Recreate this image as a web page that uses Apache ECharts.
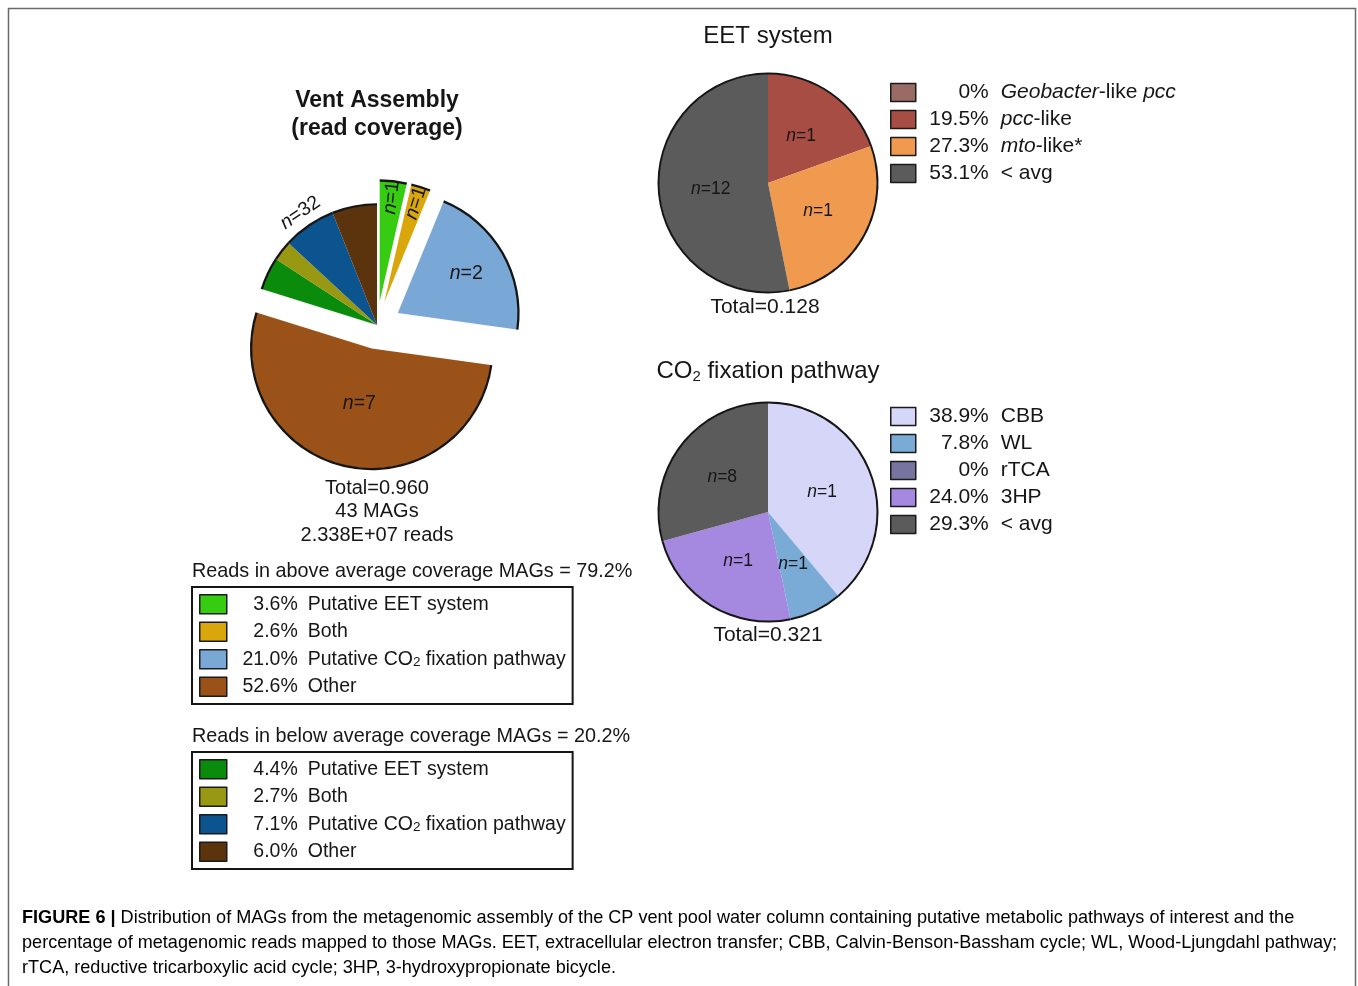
<!DOCTYPE html>
<html>
<head>
<meta charset="utf-8">
<title>Figure 6</title>
<script src="https://cdn.jsdelivr.net/npm/echarts@6.0.0/dist/echarts.min.js"></script>
<style>
  html, body { margin: 0; padding: 0; background: #fff; }
  #chart { width: 1358px; height: 986px; }
</style>
</head>
<body>
<div id="chart"></div>
<script>
// Vent assembly (read coverage): % of reads per MAG group
const ventCategories = ["Putative EET system", "Both", "Putative CO2 fixation pathway", "Other"];
const ventAbovePct = [3.6, 2.6, 21.0, 52.6];
const ventBelowPct = [4.4, 2.7, 7.1, 6.0];
const ventAboveN = [1, 1, 2, 7];
const ventBelowN = 32;
const ventAboveTotal = "79.2%";
const ventBelowTotal = "20.2%";
const ventSummary = ["Total=0.960", "43 MAGs", "2.338E+07 reads"];

// EET system
const eetCategories = ["Geobacter-like pcc", "pcc-like", "mto-like*", "< avg"];
const eetPct = [0, 19.5, 27.3, 53.1];
const eetN = [0, 1, 1, 12];
const eetTotal = "Total=0.128";

// CO2 fixation pathway
const co2Categories = ["CBB", "WL", "rTCA", "3HP", "< avg"];
const co2Pct = [38.9, 7.8, 0, 24.0, 29.3];
const co2N = [1, 1, 0, 1, 8];
const co2Total = "Total=0.321";

// palettes
const ventAboveColors = ["#35cc12", "#d9a70b", "#7aa8d6", "#9b5219"];
const ventBelowColors = ["#0b8b0b", "#989812", "#0b548f", "#5b330d"];
const eetColors = ["#9a6b64", "#a84d44", "#ef9a4f", "#5b5b5b"];
const co2Colors = ["#d6d6f8", "#7aabd6", "#77759f", "#a588df", "#5b5b5b"];

const FONT = '"Liberation Sans", Arial, Helvetica, sans-serif';
const INK = "#161616";

const measureCtx = document.createElement("canvas").getContext("2d");
const textWidth = (text, size) => {
  measureCtx.font = size + "px " + FONT;
  return measureCtx.measureText(text).width;
};

const markup = (text) =>
  text
    .split(/(Geobacter|pcc|mto|CO2)/)
    .filter(Boolean)
    .map((part) => {
      if (part === "CO2") return "{t|CO}{s|2}";
      if (/^(Geobacter|pcc|mto)$/.test(part)) return "{i|" + part + "}";
      return "{t|" + part + "}";
    })
    .join("");

const pctText = (v) => (v === 0 ? "0%" : v.toFixed(1) + "%");
const nText = (n) => "{i|n}{t|=" + n + "}";

// legend rich styles; percentages right-aligned in a column of width pw
const legendRich = (size, gap) => ({
  p: { fontFamily: FONT, fontSize: size, lineHeight: 20, color: INK },
  g: { fontFamily: FONT, fontSize: size, lineHeight: 20, width: gap },
  t: { fontFamily: FONT, fontSize: size, lineHeight: 20, color: INK },
  i: { fontFamily: FONT, fontSize: size, lineHeight: 20, fontStyle: "italic", color: INK },
  s: { fontFamily: FONT, fontSize: 13.5, lineHeight: 8, verticalAlign: "bottom", color: INK }
});
const legendText = {};
const addLegendEntries = (prefix, pcts, categories, rich, size, pw) =>
  pcts.map((v, i) => {
    const name = prefix + i;
    const pct = pctText(v);
    rich["x" + name] = { fontSize: size, lineHeight: 20, width: pw - textWidth(pct, size) };
    legendText[name] = "{x" + name + "| }{p|" + pct + "}{g| }" + markup(categories[i]);
    return name;
  });

const aboveRich = legendRich(19.5, 10);
const belowRich = legendRich(19.5, 10);
const eetRich = legendRich(21, 12);
const co2Rich = legendRich(21, 12);
const aboveNames = addLegendEntries("vA", ventAbovePct, ventCategories, aboveRich, 19.5, 66);
const belowNames = addLegendEntries("vB", ventBelowPct, ventCategories, belowRich, 19.5, 66);
const eetNames = addLegendEntries("eet", eetPct, eetCategories, eetRich, 21, 68);
const co2Names = addLegendEntries("co2", co2Pct, co2Categories, co2Rich, 21, 68);

// ---- vent pie data ----
const ventData = [];
ventAbovePct.forEach((v, i) => ventData.push({ name: aboveNames[i], value: v, selected: true, color: ventAboveColors[i] }));
ventBelowPct.forEach((v, i) => ventData.push({ name: belowNames[i], value: v, selected: false, color: ventBelowColors[i] }));

const labelRich = (size) => ({
  i: { fontFamily: FONT, fontSize: size, fontStyle: "italic", color: INK },
  t: { fontFamily: FONT, fontSize: size, color: INK }
});

const ventCenter = [377, 325];
const ventBase = {
  type: "pie",
  center: ventCenter,
  startAngle: 90,
  clockwise: true,
  selectedMode: "multiple",
  selectedOffset: 24,
  avoidLabelOverlap: false,
  silent: true,
  labelLine: { show: false },
  labelLayout: { hideOverlap: false },
  emphasis: { disabled: true }
};

// transparent layer that only carries labels at a chosen radius
const ventLabelLayer = (radius, showIdx, rotate) => ({
  ...ventBase,
  radius,
  itemStyle: { color: "rgba(0,0,0,0)" },
  label: {
    show: true,
    position: "inside",
    rotate: rotate || 0,
    formatter: (p) => (p.dataIndex < ventAboveN.length ? nText(ventAboveN[p.dataIndex]) : nText(ventBelowN)),
    rich: labelRich(19.5)
  },
  data: ventData.map((d, i) => ({
    name: d.name,
    value: d.value,
    selected: d.selected,
    label: { show: showIdx.includes(i) }
  }))
});

const smallPie = (names, values, colors, center, nums) => [
  {
    type: "pie",
    center,
    radius: 109,
    startAngle: 90,
    clockwise: true,
    silent: true,
    avoidLabelOverlap: false,
    labelLine: { show: false },
    emphasis: { disabled: true },
    label: {
      show: true,
      position: "inside",
      formatter: (p) => nText(nums[p.dataIndex]),
      rich: labelRich(17.5)
    },
    data: values.map((v, i) => ({
      name: names[i],
      value: v,
      itemStyle: { color: colors[i] },
      label: { show: v > 0 }
    }))
  },
  {
    type: "pie",
    center,
    radius: [108.5, 110.5],
    startAngle: 90,
    clockwise: true,
    silent: true,
    label: { show: false },
    labelLine: { show: false },
    emphasis: { disabled: true },
    itemStyle: { color: "#151515" },
    data: values.map((v, i) => ({ name: names[i], value: v }))
  }
];

const legendBase = {
  orient: "vertical",
  icon: "rect",
  selectedMode: false,
  formatter: (name) => legendText[name],
  itemStyle: { borderColor: "#1a1a1a", borderWidth: 1.5 }
};

const textEl = (text, x, y, size, extra) => ({
  type: "text",
  silent: true,
  style: Object.assign(
    {
      text,
      x,
      y,
      fill: INK,
      fontFamily: FONT,
      fontSize: size,
      align: "center",
      verticalAlign: "middle",
      textAlign: "center",
      textVerticalAlign: "middle"
    },
    extra || {}
  )
});

const captionRich = {
  b: { fontFamily: FONT, fontSize: 18.1, fontWeight: "bold", lineHeight: 25, color: "#2a2a2a" },
  r: { fontFamily: FONT, fontSize: 18.1, lineHeight: 25, color: "#3a3a3a" }
};

const option = {
  animation: false,
  backgroundColor: "#ffffff",
  legend: [
    {
      ...legendBase,
      left: 192,
      top: 587,
      padding: [7, 7, 7, 7],
      itemWidth: 27,
      itemHeight: 19,
      itemGap: 7,
      borderColor: "#151515",
      borderWidth: 2,
      textStyle: { rich: aboveRich },
      data: aboveNames
    },
    {
      ...legendBase,
      left: 192,
      top: 752,
      padding: [7, 7, 7, 7],
      itemWidth: 27,
      itemHeight: 19,
      itemGap: 7,
      borderColor: "#151515",
      borderWidth: 2,
      textStyle: { rich: belowRich },
      data: belowNames
    },
    {
      ...legendBase,
      left: 890,
      top: 82,
      padding: 0,
      itemWidth: 25,
      itemHeight: 18,
      itemGap: 6,
      textStyle: { rich: eetRich },
      data: eetNames
    },
    {
      ...legendBase,
      left: 890,
      top: 406,
      padding: 0,
      itemWidth: 25,
      itemHeight: 18,
      itemGap: 6,
      textStyle: { rich: co2Rich },
      data: co2Names
    }
  ],
  series: [
    // coloured vent pie
    {
      ...ventBase,
      radius: 120,
      label: { show: false },
      data: ventData.map((d) => ({ name: d.name, value: d.value, selected: d.selected, itemStyle: { color: d.color } }))
    },
    // black outer arc
    {
      ...ventBase,
      radius: [119.5, 121.8],
      label: { show: false },
      itemStyle: { color: "#151515" },
      data: ventData.map((d) => ({ name: d.name, value: d.value, selected: d.selected }))
    },
    ventLabelLayer([82, 120], [0], "radial"),
    ventLabelLayer([82, 120], [1], "radial"),
    ventLabelLayer([32, 120], [2]),
    ventLabelLayer([0, 108], [3]),
    ventLabelLayer([124, 142], [6], "tangential"),
    ...smallPie(eetNames, eetPct, eetColors, [768, 183], eetN),
    ...smallPie(co2Names, co2Pct, co2Colors, [768, 512], co2N)
  ],
  graphic: [
    {
      type: "rect",
      silent: true,
      shape: { x: 8.5, y: 8.5, width: 1347, height: 1000 },
      style: { fill: "none", stroke: "#6a6a6a", lineWidth: 1.5 }
    },
    textEl("Vent Assembly", 377, 101, 23, { fontWeight: "bold" }),
    textEl("(read coverage)", 377, 129, 23, { fontWeight: "bold" }),
    textEl(ventSummary[0], 377, 488, 20),
    textEl(ventSummary[1], 377, 511, 20),
    textEl(ventSummary[2], 377, 535, 20),
    textEl("Reads in above average coverage MAGs = " + ventAboveTotal, 192, 572, 19.8, { align: "left", textAlign: "left" }),
    textEl("Reads in below average coverage MAGs = " + ventBelowTotal, 192, 737, 19.8, { align: "left", textAlign: "left" }),
    textEl("EET system", 768, 36, 24),
    textEl(eetTotal, 765, 307, 21),
    textEl("{t|CO}{s|2}{t| fixation pathway}", 768, 371, 24, {
      rich: {
        t: { fontFamily: FONT, fontSize: 24, lineHeight: 26, color: INK },
        s: { fontFamily: FONT, fontSize: 15, lineHeight: 8, verticalAlign: "bottom", color: INK }
      }
    }),
    textEl(co2Total, 768, 635, 21),
    {
      type: "text",
      silent: true,
      style: {
        x: 22,
        y: 905.5,
        align: "left",
        verticalAlign: "top",
        textAlign: "left",
        textVerticalAlign: "top",
        rich: captionRich,
        text:
          "{b|FIGURE 6 |}{r| Distribution of MAGs from the metagenomic assembly of the CP vent pool water column containing putative metabolic pathways of interest and the}\n" +
          "{r|percentage of metagenomic reads mapped to those MAGs. EET, extracellular electron transfer; CBB, Calvin-Benson-Bassham cycle; WL, Wood-Ljungdahl pathway;}\n" +
          "{r|rTCA, reductive tricarboxylic acid cycle; 3HP, 3-hydroxypropionate bicycle.}"
      }
    }
  ]
};

const myChart = echarts.init(document.getElementById("chart"), null, { renderer: "canvas" });
myChart.setOption(option);
</script>
</body>
</html>
